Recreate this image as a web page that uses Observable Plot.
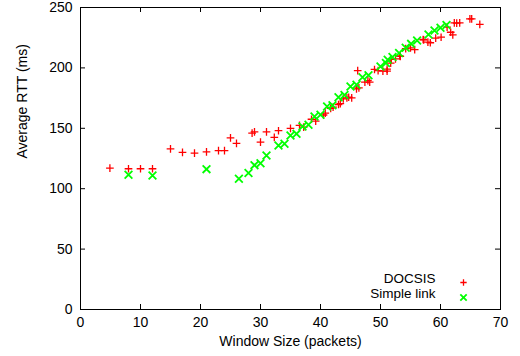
<!DOCTYPE html>
<html><head><meta charset="utf-8">
<script src="https://cdn.jsdelivr.net/npm/d3@7"></script>
<script src="https://cdn.jsdelivr.net/npm/@observablehq/plot@0.6"></script>
<style>body{margin:0;background:#fff}</style>
</head><body><div id="chart"></div>
<script>
const docsis = [
  [4.9,117],[8,116.5],[10,116.5],[12,116.5],[15,133],[17,130],[19,129.5],[21,130.5],
  [23,131.5],[24,131.5],[25,142],[26,137.5],[28.6,146],[29,147],[30,138.5],[31,147],
  [32.3,142.5],[33,148],[35,150],[36.5,152.5],[37.2,151],[38.5,157.5],[39.2,156],
  [40.5,161],[40.8,162.5],[41.7,166.5],[42.1,167.5],[43,169.7],[43.3,170.5],[43.8,174.4],
  [44.4,175.2],[44.7,175.7],[45.2,175.2],[46,182.7],[46.4,183.5],[46.2,197.8],[47.4,188.2],
  [47.9,189.5],[48.2,188.2],[49,198.7],[49.6,197.8],[50.4,197.3],[51.1,199],[51.1,197.3],
  [51.7,204],[51.8,207],[52.5,207.5],[53.2,210],[53.3,209.5],[54.2,216],[55,216.6],
  [55.7,215.2],[57.1,223.5],[57.2,223.2],[57.9,221.3],[58.3,220.8],[59.2,224.6],
  [60.1,225.4],[61.1,233.7],[61.7,229.5],[62.05,227.4],[62.3,237.3],[62.7,237],
  [63.2,237.3],[64.9,240.6],[65.2,240.6],[66.55,236]
];
const simpleLink = [
  [8,111.5],[12,111],[21,116.2],[26.4,108.2],[28,113],[29,119.5],[30,121],[31,127.5],
  [33,135.8],[34,137.2],[35,144],[36,145.4],[37,151.5],[38,153],[39,159.8],[40,161.2],
  [41.1,168],[42,169],[43,175.7],[44,177.5],[45,184.6],[46,186],[47,192.3],[48,194],
  [50,201.2],[50.9,204],[51.2,206.7],[52,209],[53.1,212.3],[54.2,216.6],[55.1,219.9],
  [56.1,222.7],[58,227.6],[59,231],[60,233.2],[61,235.5]
];
const xTicks = [0,10,20,30,40,50,60,70];
const yTicks = [0,50,100,150,200,250];
const seriesNames = ["DOCSIS","Simple link"];
const xLabel = "Window Size (packets)";
const yLabel = "Average RTT (ms)";

const font = "'Liberation Sans', Arial, Helvetica, sans-serif";
const chart = Plot.plot({
  width: 520, height: 356,
  marginLeft: 80, marginRight: 20, marginTop: 7, marginBottom: 47,
  style: {fontFamily: font, fontSize: "14px", background: "#fff", color: "#000"},
  x: {domain: [0,70]},
  y: {domain: [0,250]},
  marks: [
    Plot.axisX(xTicks, {tickSize: 0, tickPadding: 8, label: null, fontSize: 14}),
    Plot.axisY(yTicks, {tickSize: 0, tickPadding: 8, label: null, fontSize: 14}),
    Plot.tickX(xTicks, {x: d => d, insetTop: 297, stroke: "#000"}),
    Plot.tickX(xTicks, {x: d => d, insetBottom: 297, stroke: "#000"}),
    Plot.tickY(yTicks, {y: d => d, insetRight: 415, stroke: "#000"}),
    Plot.tickY(yTicks, {y: d => d, insetLeft: 415, stroke: "#000"}),
    Plot.frame({stroke: "#000", strokeWidth: 1}),
    Plot.dot(docsis, {x: d => d[0], y: d => d[1], symbol: "plus", r: 2.6, stroke: "#ff0000", strokeWidth: 1.3}),
    Plot.dot(simpleLink, {x: d => d[0], y: d => d[1], symbol: "times", r: 3.6, stroke: "#00ff00", strokeWidth: 1.8}),
    Plot.text([xLabel], {text: d => d, frameAnchor: "bottom", dy: 36, fontSize: 14, fill: "#000"}),
    Plot.text([yLabel], {text: d => d, frameAnchor: "left", rotate: -90, dx: -58, fontSize: 14, fill: "#000"}),
    Plot.text([seriesNames[0]], {text: d => d, frameAnchor: "bottom-right", textAnchor: "end", dx: -65, dy: -27, fontSize: 13.5, fill: "#000"}),
    Plot.text([seriesNames[1]], {text: d => d, frameAnchor: "bottom-right", textAnchor: "end", dx: -65, dy: -12, fontSize: 13.5, fill: "#000"}),
    Plot.dot([seriesNames[0]], {frameAnchor: "bottom-right", dx: -37, dy: -27, symbol: "plus", r: 2.2, stroke: "#ff0000", strokeWidth: 1.3}),
    Plot.dot([seriesNames[1]], {frameAnchor: "bottom-right", dx: -37, dy: -12, symbol: "times", r: 3, stroke: "#00ff00", strokeWidth: 1.8})
  ]
});
document.getElementById("chart").appendChild(chart);
</script>
</body></html>
